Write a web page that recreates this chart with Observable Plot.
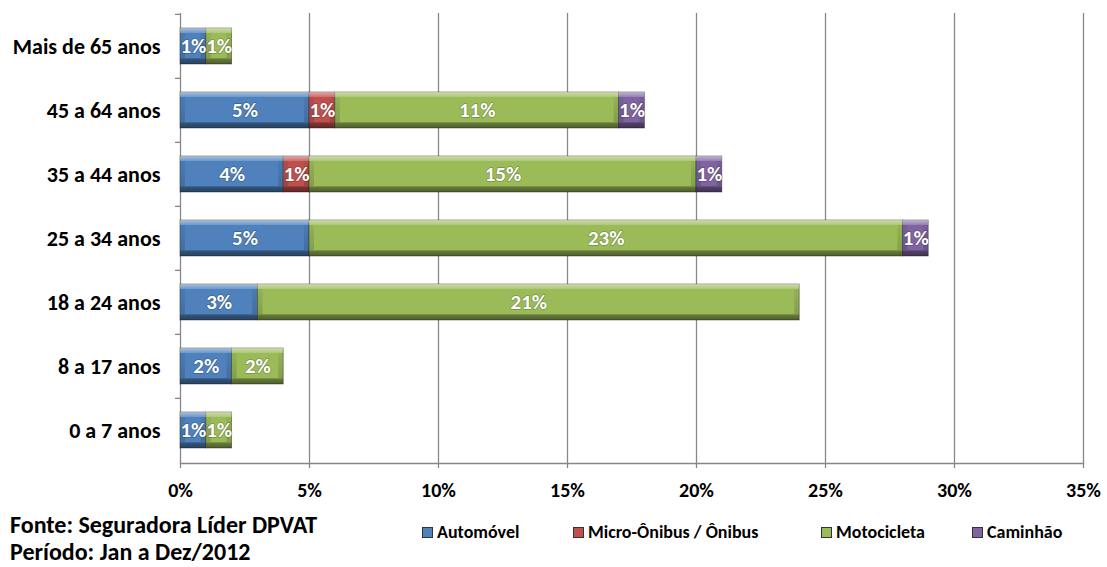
<!DOCTYPE html>
<html>
<head>
<meta charset="utf-8">
<script src="https://cdn.jsdelivr.net/npm/d3@7"></script>
<script src="https://cdn.jsdelivr.net/npm/@observablehq/plot@0.6"></script>
<style>
  body { margin: 0; background: #fff; }
  #wrap { position: relative; width: 1107px; height: 567px; overflow: hidden; font-family: Carlito, "Liberation Sans Narrow", "DejaVu Sans Condensed", sans-serif; font-weight: bold; }
  #chart { position: absolute; left: 0; top: 0; }
  .foot { position: absolute; left: 10px; font-size: 24px; line-height: normal; color: #000; white-space: nowrap; }
  .leg { position: absolute; top: 520px; height: 24px; font-size: 18px; line-height: 24px; color: #000; white-space: nowrap; display: flex; align-items: center; }
  .leg i { display: inline-block; width: 9px; height: 9px; margin-right: 4px; border: 0.5px solid #333; }
</style>
</head>
<body>
<div id="wrap">
  <div id="chart"></div>
  <div class="foot" style="top:510px">Fonte: Seguradora Líder DPVAT</div>
  <div class="foot" style="top:537px">Período: Jan a Dez/2012</div>
  <div id="legend"></div>
</div>
<script>
const ages = ["Mais de 65 anos", "45 a 64 anos", "35 a 44 anos", "25 a 34 anos", "18 a 24 anos", "8 a 17 anos", "0 a 7 anos"];
const types = ["Automóvel", "Micro-Ônibus / Ônibus", "Motocicleta", "Caminhão"];
const automovel = [1, 5, 4, 5, 3, 2, 1];
const microOnibus = [0, 1, 1, 0, 0, 0, 0];
const motocicleta = [1, 11, 15, 23, 21, 2, 1];
const caminhao = [0, 1, 1, 1, 0, 0, 0];
const xTicks = [0, 5, 10, 15, 20, 25, 30, 35];
const colors = ["#4F81BD", "#C0504D", "#9BBB59", "#8064A2"];

const FONT = 'Carlito, "Liberation Sans Narrow", "DejaVu Sans Condensed", sans-serif';
const series = [automovel, microOnibus, motocicleta, caminhao];
const data = [];
ages.forEach((age, i) => {
  types.forEach((t, k) => {
    const v = series[k][i];
    if (v > 0) data.push({age, type: t, value: v});
  });
});

const H = 505, MT = 13, MB = 42;
const step = (H - MT - MB) / ages.length;

const chart = Plot.plot({
  width: 1107,
  height: H,
  marginLeft: 180,
  marginRight: 24,
  marginTop: MT,
  marginBottom: MB,
  style: {fontFamily: FONT, fontWeight: "bold", color: "#000", background: "#fff"},
  x: {domain: [0, 35], label: null},
  y: {domain: ages, paddingInner: 0.43, paddingOuter: 0.215, label: null},
  color: {domain: types, range: colors},
  marks: [
    Plot.gridX(xTicks.filter(d => d > 0), {stroke: "#878787", strokeOpacity: 1, strokeWidth: 1.3}),
    Plot.ruleX([0], {stroke: "#878787", strokeWidth: 1.3}),
    Plot.frame({anchor: "bottom", stroke: "#878787", strokeWidth: 1.3}),
    Plot.axisX(xTicks, {text: null, tickSize: 5, stroke: "#878787", strokeWidth: 1.3}),
    Plot.axisX(xTicks, {tickSize: 0, tickPadding: 19, tickFormat: d => d + "%", fontSize: 20, fill: "#000"}),
    Plot.axisY({text: null, tickSize: 5, dy: -step / 2, stroke: "#878787", strokeWidth: 1.3}),
    Plot.axisY({tickSize: 0, tickPadding: 20, fontSize: 22, fill: "#000"}),
    Plot.barX(data, Plot.stackX({x: "value", y: "age", z: "type", fill: "type", stroke: "#2b2b2b", strokeOpacity: 0.55, strokeWidth: 0.8})),
    Plot.barX(data, Plot.stackX({x: "value", y: "age", z: "type", fill: "url(#bevel)"})),
    Plot.barX(data, Plot.stackX({x: "value", y: "age", z: "type", fill: "type", insetTop: 5, insetBottom: 6, insetLeft: 5, insetRight: 5})),
    Plot.text(data, Plot.stackX({x: "value", y: "age", z: "type", text: d => d.value + "%", fill: "white", fontSize: 21, fontWeight: "bold", stroke: "#000", strokeOpacity: 0.25, strokeWidth: 1.5}))
  ]
});

// bevel gradient definition
const ns = "http://www.w3.org/2000/svg";
const defs = document.createElementNS(ns, "defs");
defs.innerHTML = `
<linearGradient id="bevel" x1="0" y1="0" x2="0" y2="1">
  <stop offset="0" stop-color="#fff" stop-opacity="0.5"/>
  <stop offset="0.13" stop-color="#fff" stop-opacity="0.2"/>
  <stop offset="0.14" stop-color="#000" stop-opacity="0.05"/>
  <stop offset="0.84" stop-color="#000" stop-opacity="0.15"/>
  <stop offset="0.86" stop-color="#000" stop-opacity="0.35"/>
  <stop offset="1" stop-color="#000" stop-opacity="0.5"/>
</linearGradient>`;
chart.insertBefore(defs, chart.firstChild);
document.getElementById("chart").appendChild(chart);

// legend
const legX = [422, 573, 821, 972];
const leg = document.getElementById("legend");
types.forEach((t, k) => {
  const el = document.createElement("div");
  el.className = "leg";
  el.style.left = legX[k] + "px";
  el.innerHTML = `<i style="background:${colors[k]}"></i>${t}`;
  leg.appendChild(el);
});
</script>
</body>
</html>
